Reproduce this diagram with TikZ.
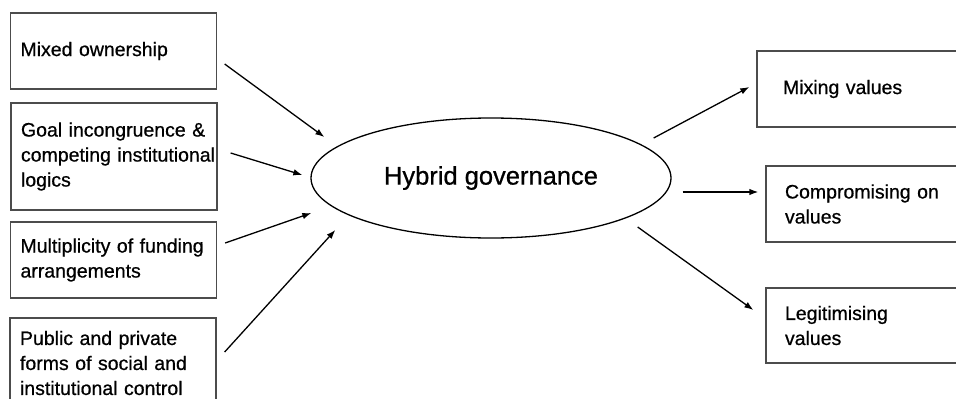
\documentclass[tikz,border=0pt]{standalone}
\usepackage{fontspec}
\setmainfont{Liberation Sans}[FakeBold=0.7]
\usetikzlibrary{shapes.geometric,arrows.meta}
\newcommand\boxfont{\fontsize{19.5}{25}\selectfont\hyphenpenalty=10000\relax\hbadness=10000\relax\hfuzz=20pt\relax}

\begin{document}
\begin{tikzpicture}[x=1pt,y=-1pt,>={Latex[length=9pt,width=6.5pt]},
    factor/.style={draw=black!70,line width=1.3pt,text width=186pt,inner xsep=10pt,inner ysep=0pt,align=left,
      font=\boxfont},
    outcome/.style={factor,text width=180pt,inner xsep=19pt},
    link/.style={->,line width=1.3pt}]
      \clip (0,0) rectangle (956,399);
      \fill[white] (0,0) rectangle (956,399);
      \node[draw,line width=1.3pt,ellipse,minimum width=360pt,minimum height=120pt,inner sep=0pt,
        font=\fontsize{25.5}{30}\selectfont] (hybrid) at (491,178) {Hybrid governance};
      \node[factor,minimum height=76pt] (owner) at (113.5,51) {Mixed ownership};
      \node[factor,minimum height=107pt] (goal) at (114,156.5) {Goal incongruence \&\\competing~institutional\\logics};
      \node[factor,minimum height=76pt] (fund) at (113.5,260) {Multiplicity of funding\\arrangements};
      \node[factor,minimum height=90pt] (control) at (113,363) {Public and private\\forms of social and\\institutional control};
      \node[outcome,minimum height=76pt,inner xsep=26pt] (mix) at (873,89) {Mixing values};
      \node[outcome,minimum height=76pt] (comp) at (875,204) {Compromising on\\values};
      \node[outcome,minimum height=75pt] (legit) at (875,325.5) {Legitimising\\values};
      \draw[link] ([shift={(7.5,13)}]owner.east) -- ([shift={(14,-41)}]hybrid.west);
      \draw[link] ([shift={(13,-3.5)}]goal.east) -- ([shift={(-8,-3)}]hybrid.west);
      \draw[link] ([shift={(8,-17)}]fund.east) -- ([shift={(1,35)}]hybrid.west);
      \draw[link] ([shift={(8,-11)}]control.east) -- ([shift={(25,52)}]hybrid.west);
      \draw[link] ([shift={(-18,-40)}]hybrid.east) -- ([shift={(-7,-2)}]mix.west);
      \draw[link] ([shift={(11,14)}]hybrid.east) -- ([shift={(-7,-12)}]comp.west);
      \draw[link] ([shift={(-34,49)}]hybrid.east) -- ([shift={(-12,-15.5)}]legit.west);
\end{tikzpicture}
\end{document}
